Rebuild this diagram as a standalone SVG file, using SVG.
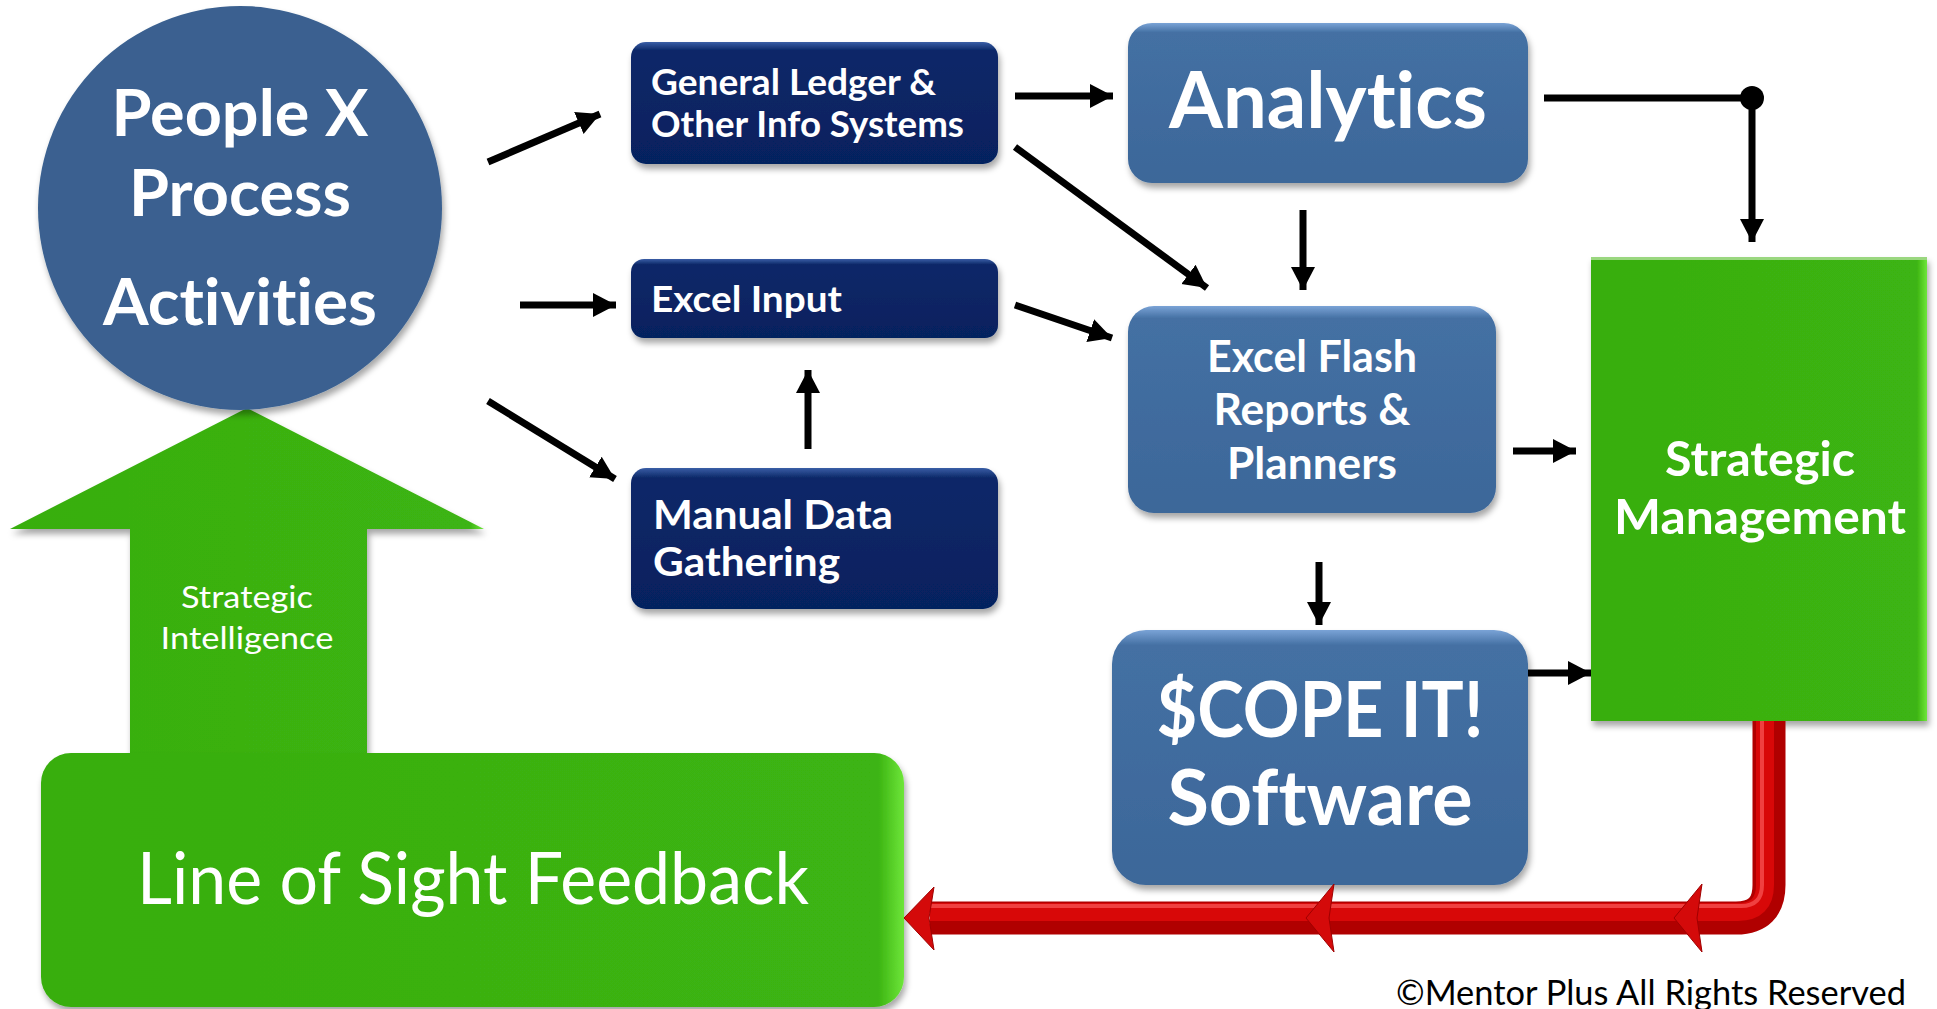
<svg xmlns="http://www.w3.org/2000/svg" width="1937" height="1009" viewBox="0 0 1937 1009">
<style>
text{font-variant-ligatures:none;font-feature-settings:"liga" 0,"dlig" 0}
.b{font-family:Lato,"Open Sans","Liberation Sans",sans-serif;font-weight:700;fill:#fff}
.r{font-family:Lato,"Open Sans","Liberation Sans",sans-serif;font-weight:400;fill:#fff}
.c{font-family:Lato,"Open Sans","Liberation Sans",sans-serif;font-weight:400;fill:#000}
.ln{stroke:#000;stroke-width:7;fill:none}
</style>
<defs>
<filter id="sh" x="-10%" y="-10%" width="125%" height="130%">
<feDropShadow dx="2" dy="5" stdDeviation="3" flood-color="#000" flood-opacity="0.35"/>
</filter>
<linearGradient id="navy" x1="0" y1="0" x2="0" y2="1">
<stop offset="0" stop-color="#3a5ea6"/>
<stop offset="0.07" stop-color="#0b2868"/>
<stop offset="1" stop-color="#06215f"/>
</linearGradient>
<linearGradient id="mblue" x1="0" y1="0" x2="0" y2="1">
<stop offset="0" stop-color="#7aa3d6"/>
<stop offset="0.06" stop-color="#4470a3"/>
<stop offset="1" stop-color="#3c6799"/>
</linearGradient>
<linearGradient id="green" x1="0" y1="0" x2="1" y2="0">
<stop offset="0" stop-color="#38ae10"/>
<stop offset="0.97" stop-color="#3cb412"/>
<stop offset="1" stop-color="#6ee63a"/>
</linearGradient>
<marker id="ah" markerUnits="userSpaceOnUse" markerWidth="28" markerHeight="28" refX="23" refY="12" orient="auto">
<path d="M0,0 L23,12 L0,24 Z" fill="#000"/>
</marker>
</defs>

<g id="strategic-intelligence-arrow">
<polygon points="247,408 484,529 367,529 367,762 130,762 130,529 10,529" fill="url(#green)" filter="url(#sh)"/>
<text class="r" x="247" y="608" font-size="31" text-anchor="middle" textLength="132" lengthAdjust="spacingAndGlyphs">Strategic</text>
<text class="r" x="247" y="649" font-size="31" text-anchor="middle" textLength="173" lengthAdjust="spacingAndGlyphs">Intelligence</text>
</g>

<g id="people-process">
<circle cx="240" cy="208" r="202" fill="#3a6190" filter="url(#sh)"/>
<text class="b" x="240" y="136" font-size="65" text-anchor="middle" textLength="257" lengthAdjust="spacingAndGlyphs">People X</text>
<text class="b" x="240" y="216" font-size="65" text-anchor="middle" textLength="222" lengthAdjust="spacingAndGlyphs">Process</text>
<text class="b" x="240" y="325" font-size="65" text-anchor="middle" textLength="274" lengthAdjust="spacingAndGlyphs">Activities</text>
</g>

<g id="general-ledger">
<rect x="631" y="42" width="367" height="122" rx="15" fill="url(#navy)" filter="url(#sh)"/>
<text class="b" x="651" y="95" font-size="36" textLength="285" lengthAdjust="spacingAndGlyphs">General Ledger &amp;</text>
<text class="b" x="651" y="137" font-size="36" textLength="313" lengthAdjust="spacingAndGlyphs">Other Info Systems</text>
</g>

<g id="excel-input">
<rect x="631" y="259" width="367" height="79" rx="13" fill="url(#navy)" filter="url(#sh)"/>
<text class="b" x="651" y="312" font-size="37" textLength="191" lengthAdjust="spacingAndGlyphs">Excel Input</text>
</g>

<g id="manual-data">
<rect x="631" y="468" width="367" height="141" rx="15" fill="url(#navy)" filter="url(#sh)"/>
<text class="b" x="653" y="529" font-size="40" textLength="240" lengthAdjust="spacingAndGlyphs">Manual Data</text>
<text class="b" x="653" y="576" font-size="40" textLength="187" lengthAdjust="spacingAndGlyphs">Gathering</text>
</g>

<g id="analytics">
<rect x="1128" y="23" width="400" height="160" rx="24" fill="url(#mblue)" filter="url(#sh)"/>
<text class="b" x="1328" y="128" font-size="79" text-anchor="middle" textLength="318" lengthAdjust="spacingAndGlyphs">Analytics</text>
</g>

<g id="excel-flash">
<rect x="1128" y="306" width="368" height="207" rx="26" fill="url(#mblue)" filter="url(#sh)"/>
<text class="b" x="1312" y="372" font-size="43" text-anchor="middle" textLength="210" lengthAdjust="spacingAndGlyphs">Excel Flash</text>
<text class="b" x="1312" y="425" font-size="43" text-anchor="middle" textLength="197" lengthAdjust="spacingAndGlyphs">Reports &amp;</text>
<text class="b" x="1312" y="479" font-size="43" text-anchor="middle" textLength="170" lengthAdjust="spacingAndGlyphs">Planners</text>
</g>

<g id="scope-it">
<rect x="1112" y="630" width="416" height="255" rx="34" fill="url(#mblue)" filter="url(#sh)"/>
<text class="b" x="1320" y="737" font-size="76" text-anchor="middle" textLength="327" lengthAdjust="spacingAndGlyphs">$COPE IT!</text>
<text class="b" x="1320" y="825" font-size="76" text-anchor="middle" textLength="305" lengthAdjust="spacingAndGlyphs">Software</text>
</g>

<g id="strategic-management">
<rect x="1591" y="257" width="336" height="464" fill="url(#green)" filter="url(#sh)"/>
<rect x="1591" y="257" width="336" height="3" fill="#9ad77f"/>
<text class="b" x="1760" y="476" font-size="48" text-anchor="middle" textLength="190" lengthAdjust="spacingAndGlyphs">Strategic</text>
<text class="b" x="1760" y="534" font-size="48" text-anchor="middle" textLength="292" lengthAdjust="spacingAndGlyphs">Management</text>
</g>

<g id="line-of-sight">
<rect x="41" y="753" width="863" height="254" rx="30" fill="url(#green)" filter="url(#sh)"/>
<text class="r" x="473" y="904" font-size="72" text-anchor="middle" textLength="672" lengthAdjust="spacingAndGlyphs">Line of Sight Feedback</text>
</g>

<g id="connectors">
<line class="ln" x1="488" y1="162" x2="600" y2="114" marker-end="url(#ah)"/>
<line class="ln" x1="520" y1="305" x2="616" y2="305" marker-end="url(#ah)"/>
<line class="ln" x1="488" y1="401" x2="615" y2="479" marker-end="url(#ah)"/>
<line class="ln" x1="808" y1="449" x2="808" y2="370" marker-end="url(#ah)"/>
<line class="ln" x1="1015" y1="96" x2="1113" y2="96" marker-end="url(#ah)"/>
<line class="ln" x1="1015" y1="147" x2="1207" y2="288" marker-end="url(#ah)"/>
<line class="ln" x1="1015" y1="305" x2="1112" y2="338" marker-end="url(#ah)"/>
<line class="ln" x1="1303" y1="210" x2="1303" y2="290" marker-end="url(#ah)"/>
<polyline class="ln" points="1544,98 1752,98 1752,242" marker-end="url(#ah)"/>
<circle cx="1752" cy="98" r="12" fill="#000"/>
<line class="ln" x1="1513" y1="451" x2="1576" y2="451" marker-end="url(#ah)"/>
<line class="ln" x1="1319" y1="562" x2="1319" y2="625" marker-end="url(#ah)"/>
<line class="ln" x1="1528" y1="673" x2="1591" y2="673" marker-end="url(#ah)"/>

<g id="feedback-pipe">
<path d="M1769,721 L1769,885 Q1769,918 1736,918 L930,918" fill="none" stroke="#b00000" stroke-width="33"/>
<path d="M1765,721 L1765,885 Q1765,912 1738,912 L930,912" fill="none" stroke="#d80808" stroke-width="18"/>
<path d="M1762,721 L1762,885 Q1762,906 1741,906 L930,906" fill="none" stroke="#f04040" stroke-width="4"/>
<polygon points="1674,918 1702,884 1697,918 1702,952" fill="#d40a0a" stroke="#a00000" stroke-width="1"/>
<polygon points="1306,918 1334,884 1329,918 1334,952" fill="#d40a0a" stroke="#a00000" stroke-width="1"/>
<polygon points="904,918 934,887 929,918 934,950" fill="#d40a0a" stroke="#a00000" stroke-width="1"/>
</g>
</g>

<text class="c" x="1906" y="1005" font-size="35" text-anchor="end" textLength="510" lengthAdjust="spacingAndGlyphs">©Mentor Plus All Rights Reserved</text>
</svg>
